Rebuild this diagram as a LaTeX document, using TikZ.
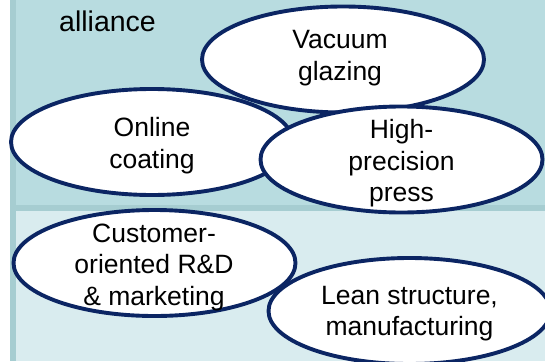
\documentclass[tikz,border=0pt]{standalone}
\usepackage{fontspec}
\setmainfont{Liberation Sans}
\usetikzlibrary{shapes.geometric}
\definecolor{toppanel}{HTML}{B8DCE0}
\definecolor{botpanel}{HTML}{D9ECEF}
\definecolor{edgeband}{HTML}{A6CDD1}
\definecolor{navy}{HTML}{0B2563}
\tikzset{
  blob/.style={ellipse, draw=navy, line width=3.9pt, fill=white,
    minimum width=282pt, minimum height=106pt, inner sep=0pt},
  lbl/.style={align=center, inner sep=0pt, text=black,
    font=\fontsize{26.5}{31.5}\selectfont},
}
\begin{document}
\begin{tikzpicture}[x=1pt,y=-1pt]
\useasboundingbox (0,0) rectangle (545,361);
% panels
\fill[white] (0,0) rectangle (545,361);
\fill[edgeband] (10,0) rectangle (545,361);
\fill[toppanel] (16,0) rectangle (545,205);
\fill[botpanel] (16,211) rectangle (545,361);
\node[lbl, anchor=base west, font=\fontsize{28.5}{32}\selectfont] (alliance) at (59,32) {alliance};
% ellipses
\node[blob] (online) at (152,142) {};
\node[blob] (vacuum) at (343,59.5) {};
\node[blob] (high) at (401.5,159.5) {};
\node[blob] (cust) at (154.5,263) {};
\node[blob] (lean) at (409.5,311) {};
% texts
\node[lbl] (tvac) at (340,58) {Vacuum\\glazing};
\node[lbl] (tonl) at (152,145.5) {Online\\coating};
\node[lbl] (thigh) at (401.5,163.5) {High-\\precision\\press};
\node[lbl] (tcust) at (154,267) {Customer-\\oriented R\&D\\\& marketing};
\node[lbl] (tlean) at (409.5,313.5) {Lean structure,\\manufacturing};
\end{tikzpicture}
\end{document}
